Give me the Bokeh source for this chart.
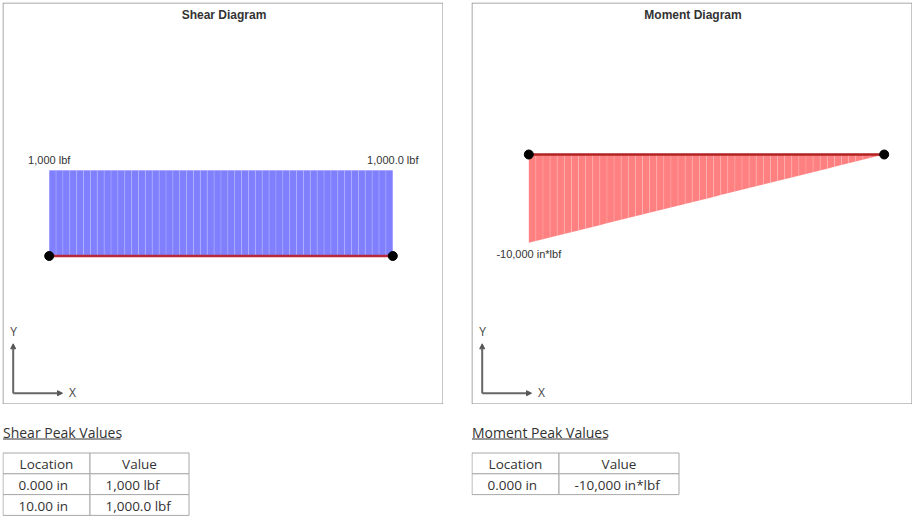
from bokeh.plotting import figure
from bokeh.models import Range1d, Arrow, NormalHead, Spacer
from bokeh.layouts import row, column
from bokeh.core.properties import value
from bokeh.embed import file_html
from bokeh.resources import INLINE

# ---------------- data ----------------
stations = [0.0, 0.2, 0.4, 0.6, 0.8, 1.0, 1.2, 1.4, 1.6, 1.8,
            2.0, 2.2, 2.4, 2.6, 2.8, 3.0, 3.2, 3.4, 3.6, 3.8,
            4.0, 4.2, 4.4, 4.6, 4.8, 5.0, 5.2, 5.4, 5.6, 5.8,
            6.0, 6.2, 6.4, 6.6, 6.8, 7.0, 7.2, 7.4, 7.6, 7.8,
            8.0, 8.2, 8.4, 8.6, 8.8, 9.0, 9.2, 9.4, 9.6, 9.8, 10.0]
shear = [1000, 1000, 1000, 1000, 1000, 1000, 1000, 1000, 1000, 1000,
         1000, 1000, 1000, 1000, 1000, 1000, 1000, 1000, 1000, 1000,
         1000, 1000, 1000, 1000, 1000, 1000, 1000, 1000, 1000, 1000,
         1000, 1000, 1000, 1000, 1000, 1000, 1000, 1000, 1000, 1000,
         1000, 1000, 1000, 1000, 1000, 1000, 1000, 1000, 1000, 1000, 1000]
moment = [-10000, -9800, -9600, -9400, -9200, -9000, -8800, -8600, -8400, -8200,
          -8000, -7800, -7600, -7400, -7200, -7000, -6800, -6600, -6400, -6200,
          -6000, -5800, -5600, -5400, -5200, -5000, -4800, -4600, -4400, -4200,
          -4000, -3800, -3600, -3400, -3200, -3000, -2800, -2600, -2400, -2200,
          -2000, -1800, -1600, -1400, -1200, -1000, -800, -600, -400, -200, 0]
shear_end_labels = ["1,000 lbf", "1,000.0 lbf"]
moment_end_labels = ["-10,000 in*lbf"]
table_headers = ["Location", "Value"]
shear_peak_loc = ["0.000 in", "10.00 in"]
shear_peak_val = ["1,000 lbf", "1,000.0 lbf"]
moment_peak_loc = ["0.000 in"]
moment_peak_val = ["-10,000 in*lbf"]

ARIAL = value("Liberation Sans")
OPEN = value("Open Sans")
W, H = 441, 402


def diagram(title, xs, vs, fill, line_col, X0, SX, Y0, SY, lab_idx, lab_texts, lab_off):
    px = lambda u: (u - X0) / SX
    py = lambda v: (Y0 - v) / SY
    p = figure(width=W, height=H, output_backend="svg", toolbar_location=None,
               x_range=Range1d(px(0), px(W)), y_range=Range1d(py(H), py(0)),
               min_border=0)
    p.axis.visible = False
    p.grid.visible = False
    p.outline_line_color = None
    p.background_fill_color = "white"
    p.border_fill_color = "white"
    # border box
    p.quad(left=[px(0.5)], right=[px(W - 0.5)], top=[py(0.5)], bottom=[py(H - 0.5)],
           fill_color=None, line_color="#8c8c8c", line_width=1)
    # strips
    sx_, sy_ = [], []
    for i in range(len(xs) - 1):
        sx_.append([xs[i], xs[i + 1], xs[i + 1], xs[i]])
        sy_.append([0, 0, vs[i + 1], vs[i]])
    p.patches(sx_, sy_, fill_color=fill, line_color="white", line_alpha=0.13, line_width=1)
    # base line and end points
    p.line([xs[0], xs[-1]], [0, 0], line_color=line_col, line_width=2.5)
    p.scatter([xs[0], xs[-1]], [0, 0], size=9, color="black")
    # value labels
    p.text([xs[i] for i in lab_idx], [vs[i] for i in lab_idx], text=lab_texts,
           text_font=ARIAL, text_font_size="11px", text_color="#333333",
           text_align="center", text_baseline="middle", y_offset=lab_off)
    # title
    p.text([px(W / 2 + 1)], [py(12.7)], text=[title], text_font=ARIAL,
           text_font_size="12px", text_font_style="bold", text_color="#333333",
           text_align="center", text_baseline="middle")
    # axis icon
    cx, cy = 10.7, 390.7
    p.add_layout(Arrow(x_start=px(cx), y_start=py(cy), x_end=px(cx), y_end=py(341.3),
                       line_color="#666666", line_width=2,
                       end=NormalHead(size=5, fill_color="#555555", line_color="#555555")))
    p.add_layout(Arrow(x_start=px(cx), y_start=py(cy), x_end=px(60), y_end=py(cy),
                       line_color="#666666", line_width=2,
                       end=NormalHead(size=5, fill_color="#555555", line_color="#555555")))
    p.text([px(11), px(70)], [py(329), py(390.3)], text=["Y", "X"], text_font=OPEN,
           text_font_size="12px", text_color="#444444", text_align="center",
           text_baseline="middle")
    return p


shear_fig = diagram("Shear Diagram", stations, shear, "#8080ff", "#b8283a",
                    46.7, 34.36, 253.5, 0.0857, [0, len(stations) - 1],
                    shear_end_labels, -10)
moment_fig = diagram("Moment Diagram", stations, moment, "#ff8080", "#b22222",
                     57.3, 35.54, 152, 0.00883, [0], moment_end_labels, 11)


def table(heading, uline_w, locs, vals, TW, edges):
    TH = 112
    p = figure(width=TW, height=TH, output_backend="svg", toolbar_location=None,
               x_range=Range1d(0, TW), y_range=Range1d(TH, 0), min_border=0)
    p.axis.visible = False
    p.grid.visible = False
    p.outline_line_color = None
    p.text([0.5], [27.6], text=[heading], text_font=OPEN, text_font_size="14px",
           text_color="#333333", text_align="left", text_baseline="middle")
    p.segment([0.5], [34.5], [uline_w], [34.5], line_color="#333333", line_width=1)
    top0, rh = 48.5, 20.8
    rows = [table_headers] + [[l, v] for l, v in zip(locs, vals)]
    L, R, T, B = [], [], [], []
    tx, ty, tt = [], [], []
    for r, cells in enumerate(rows):
        t = top0 + r * rh
        for c, txt in enumerate(cells):
            L.append(edges[c]); R.append(edges[c + 1]); T.append(t); B.append(t + rh)
            if r == 0:
                tx.append((edges[c] + edges[c + 1]) / 2)
            else:
                tx.append(edges[c] + 15.5)
            ty.append(t + 11.2)
            tt.append(txt)
    p.quad(left=L, right=R, top=T, bottom=B, fill_color="white",
           line_color="#a8a8a8", line_width=1)
    aligns = ["center" if i < 2 else "left" for i in range(len(tt))]
    p.text(x=tx, y=ty, text=tt, text_align=aligns, text_font=OPEN,
           text_font_size="13.5px", text_color="#333333", text_baseline="middle")
    return p


shear_tab = table("Shear Peak Values", 118, shear_peak_loc, shear_peak_val, 469,
                  [0.5, 87.5, 186.5])
moment_tab = table("Moment Peak Values", 136, moment_peak_loc, moment_peak_val, 441,
                   [0.5, 87.5, 207.5])

root = column(row(shear_fig, Spacer(width=28, height=H), moment_fig),
              row(shear_tab, moment_tab))
root.styles = {"position": "relative", "left": "2px", "top": "2px"}

open("out.html", "w").write(file_html(root, INLINE))
